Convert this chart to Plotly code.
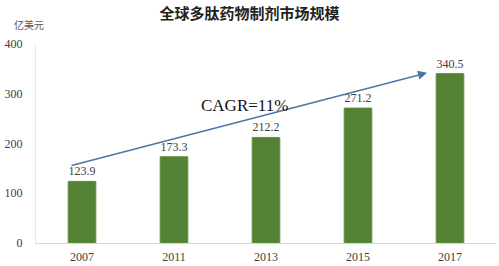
import plotly.graph_objects as go

years = ["2007", "2011", "2013", "2015", "2017"]
values = [123.9, 173.3, 212.2, 271.2, 340.5]
labels = ["123.9", "173.3", "212.2", "271.2", "340.5"]
title = "全球多肽药物制剂市场规模"
unit = "亿美元"
cagr_text = "CAGR=11%"
arrow_start = (-0.13, 155)
arrow_end = (3.75, 342)
cagr_pos = (1.77, 277)

W, H = 499, 266
L, R, T, B = 36, 3, 44, 23

fig = go.Figure()
fig.add_trace(go.Bar(
    x=years, y=values, text=labels, textposition="outside",
    textfont=dict(family="Liberation Serif", size=12, color="#404040"),
    marker=dict(color="#548235", line=dict(color="#5f8f3e", width=1)),
    width=0.3, cliponaxis=False,
))

fig.add_annotation(
    x=arrow_end[0], y=arrow_end[1], ax=arrow_start[0], ay=arrow_start[1],
    xref="x", yref="y", axref="x", ayref="y", text="",
    showarrow=True, arrowhead=2, arrowsize=1.2, arrowwidth=1.5, arrowcolor="#4a76a8",
)
fig.add_annotation(
    x=cagr_pos[0], y=cagr_pos[1], xref="x", yref="y", text=cagr_text, showarrow=False,
    font=dict(family="Liberation Serif", size=17, color="#111111"),
)
fig.add_annotation(
    x=(29 - L) / (W - L - R), y=1 + (T - 25) / (H - T - B), xref="paper", yref="paper",
    text=unit, showarrow=False, xanchor="center", yanchor="middle",
    font=dict(family="Noto Sans CJK SC", size=10, color="#595959"),
)

fig.update_layout(
    width=W, height=H, margin=dict(l=L, r=R, t=T, b=B),
    paper_bgcolor="white", plot_bgcolor="white", showlegend=False,
    title=dict(text=title, x=0.5, xanchor="center", y=1 - 14 / H, yanchor="middle",
               yref="container",
               font=dict(family="Noto Sans CJK SC", size=15, color="#222222", weight="bold")),
    xaxis=dict(type="category", showline=True, linecolor="#d9d9d9", linewidth=1,
               showgrid=False, ticks="", ticklabelstandoff=3,
               tickfont=dict(family="Liberation Serif", size=12, color="#404040")),
    yaxis=dict(range=[0, 400], dtick=100, showline=True, linecolor="#e6e6e6", linewidth=1,
               showgrid=False, zeroline=False, ticks="", ticklabelstandoff=10,
               tickfont=dict(family="Liberation Serif", size=12, color="#404040")),
)

fig.write_html("out.html")
